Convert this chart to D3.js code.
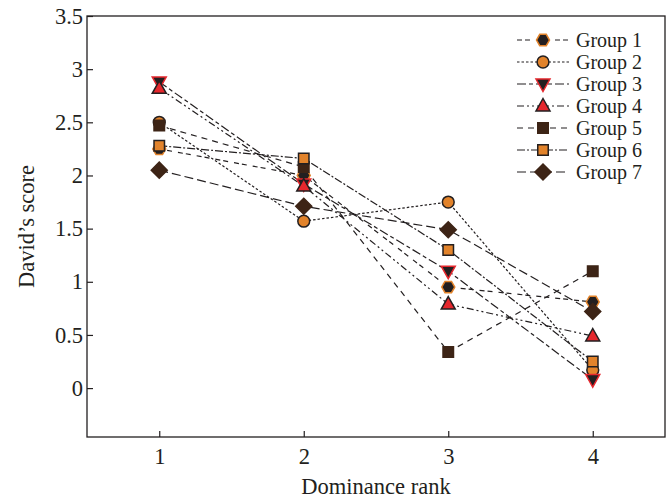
<!DOCTYPE html>
<html>
<head>
<meta charset="utf-8">
<script src="https://cdn.jsdelivr.net/npm/d3@7"></script>
<style>
  body { margin: 0; background: #fff; }
  text { font-family: "Liberation Serif", "DejaVu Serif", serif; fill: #231f20; }
</style>
</head>
<body>
<div id="chart"></div>
<script>
// data
var ranks = [1, 2, 3, 4];
var groups = ["Group 1", "Group 2", "Group 3", "Group 4", "Group 5", "Group 6", "Group 7"];
var g1 = [2.25, 2.0, 0.95, 0.81];
var g2 = [2.5, 1.57, 1.75, 0.17];
var g3 = [2.88, 1.92, 1.1, 0.08];
var g4 = [2.82, 1.9, 0.79, 0.49];
var g5 = [2.47, 2.08, 0.34, 1.1];
var g6 = [2.28, 2.16, 1.3, 0.25];
var g7 = [2.05, 1.71, 1.49, 0.72];
var yTicks = [0, 0.5, 1, 1.5, 2, 2.5, 3, 3.5];

var seriesValues = [g1, g2, g3, g4, g5, g6, g7];

var orange = "#e2832b";
var brown = "#3d2416";
var red = "#e5272d";
var ink = "#231f20";
var fontSize = 22.5;
var legendFont = 20;
var legendStep = 22;

// marker style per group
var styles = [
  { shape: "hex", fill: "#231f20", stroke: orange, dash: "5,3,5,6" },
  { shape: "circle", fill: orange, stroke: ink, dash: "2.5,2" },
  { shape: "tridown", fill: "#231f20", stroke: red, dash: "9,3,4,3" },
  { shape: "triup", fill: red, stroke: ink, dash: "7,3,2,3,2,3" },
  { shape: "square", fill: brown, stroke: brown, dash: "6,5" },
  { shape: "square", fill: orange, stroke: ink, dash: "8,2,2,2" },
  { shape: "diamond", fill: brown, stroke: brown, dash: "9,4" }
];

var svgWidth = 670;
var svgHeight = 498;
var margin = { top: 16, right: 5, bottom: 61, left: 87 };
var width = svgWidth - margin.left - margin.right;
var height = svgHeight - margin.top - margin.bottom;

var svg = d3.select("#chart")
  .append("svg")
  .attr("width", svgWidth)
  .attr("height", svgHeight);

var chartGroup = svg.append("g")
  .attr("transform", `translate(${margin.left}, ${margin.top})`);

var xScale = d3.scaleLinear().domain([0.5, 4.5]).range([0, width]);
var yScale = d3.scaleLinear().domain([-0.46, 3.5]).range([height, 0]);

// frame
chartGroup.append("rect")
  .attr("width", width)
  .attr("height", height)
  .attr("fill", "none")
  .attr("stroke", ink)
  .attr("stroke-width", 1.3);

var xAxis = d3.axisBottom(xScale).tickValues(ranks).tickSize(-6).tickPadding(11).tickFormat(d => d);
var yAxis = d3.axisLeft(yScale).tickValues(yTicks).tickSize(-6).tickPadding(4).tickFormat(d => d);

var xg = chartGroup.append("g")
  .attr("transform", `translate(0,${height})`)
  .call(xAxis);
var yg = chartGroup.append("g").call(yAxis);

[xg, yg].forEach(function (g) {
  g.select(".domain").remove();
  g.selectAll("line").attr("stroke", ink).attr("stroke-width", 1.2);
  g.selectAll("text").attr("font-size", fontSize).attr("fill", ink)
    .attr("font-family", "Liberation Serif, DejaVu Serif, serif");
});

// axis titles
svg.append("text")
  .attr("x", margin.left + width / 2)
  .attr("y", 494)
  .attr("text-anchor", "middle")
  .attr("font-size", fontSize)
  .text("Dominance rank");

svg.append("text")
  .attr("transform", `translate(34, ${margin.top + height / 2}) rotate(-90)`)
  .attr("text-anchor", "middle")
  .attr("font-size", fontSize)
  .text("David\u2019s score");

function markerPath(shape) {
  if (shape === "circle") return d3.symbol(d3.symbolCircle, 110)();
  if (shape === "square") return d3.symbol(d3.symbolSquare, 110)();
  if (shape === "diamond") return "M0,-8L8,0L0,8L-8,0Z";
  if (shape === "triup") return "M0,-7.5L7,5L-7,5Z";
  if (shape === "tridown") return "M0,7.5L7,-5L-7,-5Z";
  // hexagon
  var pts = d3.range(6).map(i => {
    var a = Math.PI / 3 * i;
    return [6.5 * Math.cos(a), 6.5 * Math.sin(a)];
  });
  return "M" + pts.join("L") + "Z";
}

var line = d3.line()
  .x((d, i) => xScale(ranks[i]))
  .y(d => yScale(d));

// lines first, then markers on top
seriesValues.forEach(function (vals, k) {
  chartGroup.append("path")
    .datum(vals)
    .attr("d", line)
    .attr("fill", "none")
    .attr("stroke", ink)
    .attr("stroke-width", 1.2)
    .attr("stroke-dasharray", styles[k].dash);
});

seriesValues.forEach(function (vals, k) {
  chartGroup.selectAll(".m" + k)
    .data(vals)
    .enter()
    .append("path")
    .attr("class", "m" + k)
    .attr("transform", (d, i) => `translate(${xScale(ranks[i])},${yScale(d)})`)
    .attr("d", markerPath(styles[k].shape))
    .attr("fill", styles[k].fill)
    .attr("stroke", styles[k].stroke)
    .attr("stroke-width", 1.5);
});

// legend
var legend = svg.append("g").attr("transform", "translate(517, 40)");
groups.forEach(function (name, k) {
  var row = legend.append("g").attr("transform", `translate(0, ${k * legendStep})`);
  row.append("line")
    .attr("x1", 0).attr("x2", 52)
    .attr("stroke", ink)
    .attr("stroke-width", 1.2)
    .attr("stroke-dasharray", styles[k].dash);
  row.append("path")
    .attr("transform", "translate(26,0)")
    .attr("d", markerPath(styles[k].shape))
    .attr("fill", styles[k].fill)
    .attr("stroke", styles[k].stroke)
    .attr("stroke-width", 1.5);
  row.append("text")
    .attr("x", 59)
    .attr("y", 6.5)
    .attr("font-size", legendFont)
    .text(name);
});
</script>
</body>
</html>
